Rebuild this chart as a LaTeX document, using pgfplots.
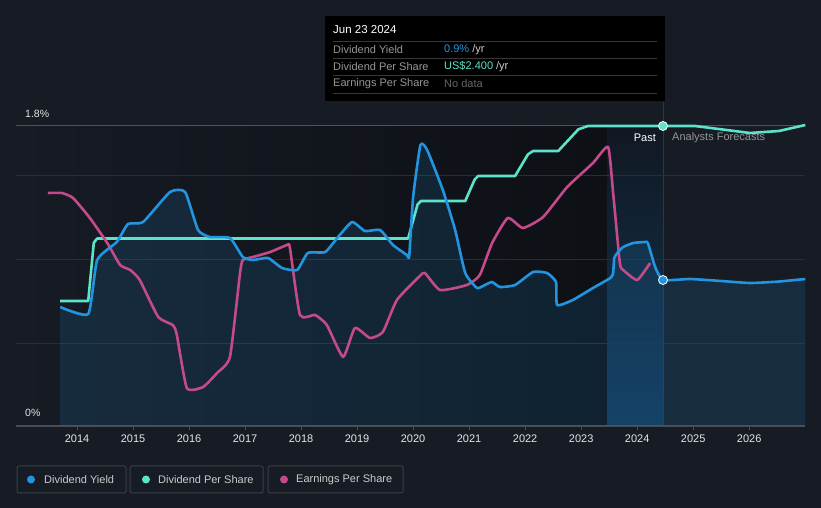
\documentclass[border=0pt]{standalone}
\usepackage{pgfplots}
\pgfplotsset{compat=1.18}
\usepackage{pgfplotstable}
\usepackage{fontspec}
\setmainfont{Liberation Sans}

\definecolor{bgc}{RGB}{22,27,36}
\definecolor{pastdark}{RGB}{13,16,21}
\definecolor{bandtop}{RGB}{17,24,34}
\definecolor{bandbot}{RGB}{18,54,85}
\definecolor{dyc}{RGB}{35,148,223}
\definecolor{dpsc}{RGB}{92,227,201}
\definecolor{epsc}{RGB}{196,74,139}
\definecolor{gridc}{RGB}{40,45,54}
\definecolor{topline}{RGB}{78,82,90}
\definecolor{axisc}{RGB}{70,75,84}
\definecolor{legc}{RGB}{58,62,72}
\definecolor{labc}{RGB}{150,150,150}
\definecolor{nowc}{RGB}{30,58,84}

% dividend yield, %
\pgfplotstableread{
year val
2013.70 0.714
2014.20 0.672
2014.36 0.996
2014.71 1.104
2014.91 1.212
2015.18 1.224
2015.66 1.404
2015.93 1.404
2016.16 1.176
2016.37 1.134
2016.73 1.128
2016.96 1.014
2017.14 0.996
2017.41 1.008
2017.66 0.948
2017.93 0.936
2018.12 1.038
2018.43 1.044
2018.66 1.134
2018.91 1.224
2019.14 1.170
2019.41 1.176
2019.64 1.086
2019.89 1.026
2019.93 1.020
2020.00 1.374
2020.13 1.686
2020.25 1.656
2020.53 1.416
2020.75 1.176
2020.93 0.918
2021.14 0.828
2021.28 0.846
2021.41 0.864
2021.55 0.834
2021.82 0.846
2022.14 0.924
2022.39 0.918
2022.55 0.864
2022.57 0.726
2022.85 0.756
2023.21 0.828
2023.52 0.888
2023.57 0.918
2023.59 1.008
2023.66 1.044
2023.75 1.074
2023.93 1.098
2024.14 1.104
2024.19 1.098
2024.32 0.954
2024.46 0.876
2024.94 0.882
2025.50 0.870
2026.01 0.858
2026.50 0.866
2027.00 0.882
}\dytable

% dividend per share, drawn on the yield scale (1.8 = US$2.40)
\pgfplotstableread{
year val
2013.70 0.75
2014.20 0.75
2014.30 1.10
2014.36 1.125
2019.91 1.125
2020.08 1.33
2020.14 1.35
2020.93 1.35
2021.10 1.48
2021.16 1.50
2021.82 1.50
2022.05 1.63
2022.14 1.65
2022.59 1.65
2022.95 1.78
2023.12 1.80
2024.46 1.80
2025.03 1.80
2025.50 1.78
2026.01 1.758
2026.53 1.77
2027.00 1.806
}\dpstable

% earnings per share, same scale
\pgfplotstableread{
year val
2013.48 1.398
2013.73 1.398
2013.93 1.368
2014.23 1.248
2014.54 1.098
2014.77 0.966
2014.95 0.936
2015.12 0.876
2015.45 0.654
2015.71 0.606
2015.78 0.55
2015.96 0.228
2016.25 0.234
2016.50 0.318
2016.73 0.414
2016.91 0.918
2016.96 0.996
2017.14 1.014
2017.45 1.044
2017.75 1.086
2017.80 1.07
2017.98 0.666
2018.25 0.666
2018.46 0.606
2018.75 0.414
2018.96 0.588
2019.23 0.528
2019.46 0.564
2019.71 0.756
2020.12 0.900
2020.21 0.918
2020.48 0.816
2020.96 0.846
2021.19 0.906
2021.41 1.098
2021.69 1.248
2021.96 1.188
2022.32 1.254
2022.75 1.434
2023.21 1.578
2023.48 1.674
2023.57 1.398
2023.69 0.978
2023.75 0.936
2024.00 0.876
2024.23 0.978
}\epstable

\begin{document}
\begin{tikzpicture}[font=\fontsize{11}{13}\selectfont]
\useasboundingbox (0,0) rectangle (821pt,508pt);
\fill[bgc] (0,0) rectangle (821pt,508pt);

% backgrounds in pixel units (origin top left)
\begin{scope}[x=1pt,y=-1pt,yshift=508pt]
  \shade[left color=bgc, right color=pastdark] (16,126) rectangle (607,426);
  \shade[top color=bandtop, bottom color=bandbot] (607,126) rectangle (663,426);
  \draw[nowc, line width=1pt] (663,102) -- (663,426);
  \foreach \gy in {176,259.7,343.3}
    \draw[gridc, line width=1pt] (16,\gy) -- (805,\gy);
  \draw[topline, line width=1pt] (16,126) -- (805,126);
\end{scope}

\begin{axis}[
  at={(16pt,82pt)}, anchor=south west,
  scale only axis, width=789pt, height=300pt,
  xmin=2012.911, xmax=2026.995, ymin=0, ymax=1.8,
  axis x line*=bottom, axis y line=none,
  x axis line style={axisc, line width=1.2pt},
  xtick={2014,...,2026}, ytick=\empty,
  tick align=outside, major tick length=4pt,
  xtick style={axisc, line width=1pt},
  xticklabel style={font=\fontsize{11}{13}\selectfont, color=white!90!black, yshift=-1pt},
  /pgf/number format/1000 sep={},
  /pgf/number format/assume math mode=true,
  clip=false,
]
\addplot[draw=none, fill=dyc, fill opacity=0.14] table[x=year,y=val] {\dytable} \closedcycle;
\addplot[dpsc, line width=2.6pt, line join=round] table[x=year,y=val] {\dpstable};
\addplot[epsc, line width=2.6pt, line join=round, smooth, tension=0.3] table[x=year,y=val] {\epstable};
\addplot[dyc, line width=2.6pt, line join=round, smooth, tension=0.3] table[x=year,y=val] {\dytable};
\addplot[only marks, mark=*, mark size=4.5pt, mark options={fill=dpsc, draw=white, line width=0.8pt}] coordinates {(2024.46,1.80)};
\addplot[only marks, mark=*, mark size=4.5pt, mark options={fill=dyc, draw=white, line width=0.8pt}] coordinates {(2024.46,0.876)};
\end{axis}

% labels, tooltip and legend in pixel units
\begin{scope}[x=1pt,y=-1pt,yshift=508pt, every node/.style={inner sep=0pt}]
  \node[anchor=west, white!90!black, font=\fontsize{10.5}{12}\selectfont] at (25,114) {1.8\%};
  \node[anchor=west, white!90!black, font=\fontsize{10.5}{12}\selectfont] at (25,413) {0\%};
  \node[anchor=east, white] at (656,138) {Past};
  \node[anchor=west, labc] at (672,138) {Analysts Forecasts};

  \fill[black] (325,16) rectangle (665,101);
  \foreach \sy in {41.5,58.5,75.5,93}
    \draw[white!22!black, line width=0.8pt] (333,\sy) -- (657,\sy);
  \node[anchor=west, white, font=\fontsize{11.5}{13}\selectfont] at (333,30) {Jun 23 2024};
  \node[anchor=west, labc] at (333,49.5) {Dividend Yield};
  \node[anchor=west] at (444,49.5) {\textcolor{dyc}{0.9\%} \textcolor{white!80!black}{/yr}};
  \node[anchor=west, labc] at (333,66.5) {Dividend Per Share};
  \node[anchor=west] at (444,66.5) {\textcolor{dpsc}{US\$2.400} \textcolor{white!80!black}{/yr}};
  \node[anchor=west, labc] at (333,84) {Earnings Per Share};
  \node[anchor=west, white!40!black] at (444,84) {No data};

  \draw[legc, line width=1pt, rounded corners=2pt] (17,466) rectangle (126,493);
  \draw[legc, line width=1pt, rounded corners=2pt] (130,466) rectangle (263,493);
  \draw[legc, line width=1pt, rounded corners=2pt] (268,466) rectangle (403,493);
  \fill[dyc] (31,479.5) circle (4);
  \fill[dpsc] (146,479.5) circle (4);
  \fill[epsc] (284,479.5) circle (4);
  \node[anchor=west, white!80!black] at (44,479.5) {Dividend Yield};
  \node[anchor=west, white!80!black] at (158,479.5) {Dividend Per Share};
  \node[anchor=west, white!80!black] at (296,479.5) {Earnings Per Share};
\end{scope}
\end{tikzpicture}
\end{document}
